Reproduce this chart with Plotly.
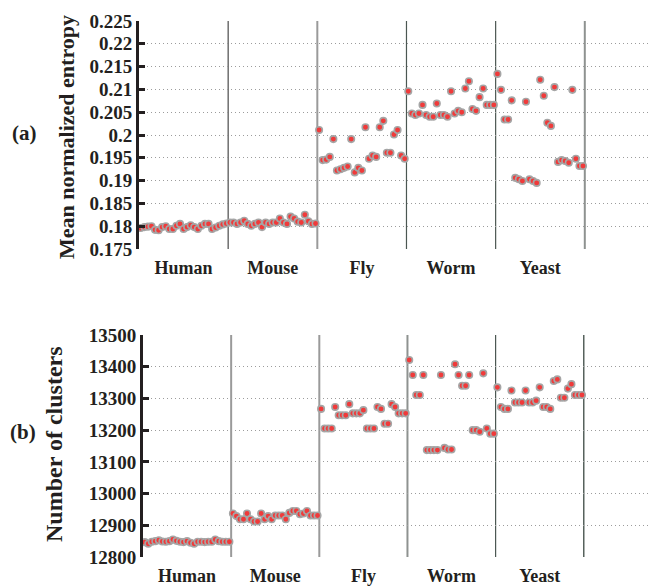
import plotly.graph_objects as go

# ---- data -------------------------------------------------------------
categories = ["Human", "Mouse", "Fly", "Worm", "Yeast"]
runs_per_species = 25

entropy_human = [0.1796, 0.1798, 0.1799, 0.1800, 0.1792, 0.1791, 0.1798, 0.1800, 0.1794, 0.1794,
                 0.1801, 0.1805, 0.1794, 0.1798, 0.1802, 0.1798, 0.1794, 0.1801, 0.1805, 0.1805,
                 0.1794, 0.1797, 0.1801, 0.1804, 0.1806]
entropy_mouse = [0.1808, 0.1808, 0.1805, 0.1808, 0.1812, 0.1805, 0.1801, 0.1805, 0.1808, 0.1798,
                 0.1808, 0.1805, 0.1808, 0.1808, 0.1817, 0.1808, 0.1805, 0.1821, 0.1817, 0.1810,
                 0.1808, 0.1825, 0.1811, 0.1805, 0.1806]
entropy_fly = [0.2011, 0.1945, 0.1946, 0.1952, 0.1991, 0.1922, 0.1925, 0.1928, 0.1931, 0.1991,
               0.1918, 0.1928, 0.1922, 0.2017, 0.1948, 0.1955, 0.1952, 0.2017, 0.2031, 0.1961,
               0.1961, 0.2001, 0.2011, 0.1955, 0.1948]
entropy_worm = [0.2096, 0.2047, 0.2044, 0.2047, 0.2066, 0.2044, 0.2040, 0.2040, 0.2069, 0.2044,
                0.2044, 0.2040, 0.2096, 0.2047, 0.2053, 0.2050, 0.2102, 0.2118, 0.2057, 0.2053,
                0.2083, 0.2102, 0.2066, 0.2066, 0.2066]
entropy_yeast = [0.2134, 0.2099, 0.2034, 0.2034, 0.2076, 0.1906, 0.1903, 0.1899, 0.2073, 0.1903,
                 0.1899, 0.1895, 0.2121, 0.2086, 0.2027, 0.2020, 0.2105, 0.1941, 0.1945, 0.1943,
                 0.1939, 0.2099, 0.1948, 0.1932, 0.1932]

clusters_human = [12847, 12842, 12848, 12850, 12853, 12849, 12848, 12850, 12855, 12851,
                  12848, 12847, 12850, 12845, 12842, 12848, 12848, 12847, 12848, 12848,
                  12855, 12850, 12848, 12848, 12848]
clusters_mouse = [12937, 12929, 12919, 12919, 12937, 12919, 12912, 12912, 12937, 12919,
                  12929, 12919, 12931, 12931, 12931, 12919, 12939, 12945, 12945, 12935,
                  12937, 12945, 12931, 12931, 12931]
clusters_fly = [13267, 13205, 13205, 13205, 13273, 13247, 13247, 13247, 13282, 13253,
                13253, 13253, 13263, 13205, 13205, 13205, 13273, 13267, 13220, 13220,
                13282, 13273, 13253, 13253, 13253]
clusters_worm = [13421, 13374, 13311, 13311, 13374, 13137, 13137, 13137, 13137, 13374,
                 13144, 13139, 13139, 13408, 13374, 13340, 13340, 13374, 13200, 13200,
                 13195, 13379, 13205, 13189, 13189]
clusters_yeast = [13335, 13273, 13267, 13267, 13325, 13287, 13287, 13287, 13325, 13287,
                  13287, 13293, 13335, 13273, 13273, 13267, 13355, 13360, 13302, 13302,
                  13331, 13345, 13311, 13311, 13311]

entropy_ticks = [0.175, 0.18, 0.185, 0.19, 0.195, 0.2, 0.205, 0.21, 0.215, 0.22, 0.225]
entropy_tick_labels = ["0.175", "0.18", "0.185", "0.19", "0.195", "0.2",
                       "0.205", "0.21", "0.215", "0.22", "0.225"]
cluster_ticks = [12800, 12900, 13000, 13100, 13200, 13300, 13400, 13500]
cluster_tick_labels = ["12800", "12900", "13000", "13100", "13200", "13300", "13400", "13500"]

entropy_series = [entropy_human, entropy_mouse, entropy_fly, entropy_worm, entropy_yeast]
cluster_series = [clusters_human, clusters_mouse, clusters_fly, clusters_worm, clusters_yeast]

# ---- styling ----------------------------------------------------------
W, H = 649, 586
SERIF = "Liberation Serif, Times New Roman, serif"
INK = "#231f20"
DOT_FILL = "#f03a3a"
DOT_EDGE = "#a5a5a5"


def run_positions(series_list):
    xs, ys = [], []
    for k, vals in enumerate(series_list):
        for i, v in enumerate(vals):
            xs.append(k * runs_per_species + i + 0.5)
            ys.append(v)
    return xs, ys


fig = go.Figure()
for series_list, xa, ya in [(entropy_series, "x", "y"), (cluster_series, "x2", "y2")]:
    xs, ys = run_positions(series_list)
    fig.add_trace(go.Scatter(
        x=xs, y=ys, xaxis=xa, yaxis=ya, mode="markers",
        marker=dict(size=6.5, color=DOT_FILL, line=dict(color=DOT_EDGE, width=1.6)),
        hoverinfo="skip", showlegend=False,
    ))

group_centers = [k * runs_per_species + runs_per_species / 2 for k in range(len(categories))]
boundaries = [k * runs_per_species for k in range(1, len(categories) + 1)]

# separators between species blocks
top_sep_colors = ["#4a4a4a", "#9a9a9a", "#4b5752", "#4b5752", "#8e9290"]
bot_sep_colors = ["#9a9a9a", "#9a9a9a", "#8e9290", "#4b5752", "#4b5752"]
top_sep_widths = [1.2, 2, 1.2, 1.2, 2]
bot_sep_widths = [2, 2, 2, 1.2, 1.4]
shapes = []
for b, c, w in zip(boundaries, top_sep_colors, top_sep_widths):
    shapes.append(dict(type="line", xref="x", yref="y domain", x0=b, x1=b, y0=0, y1=1,
                       line=dict(color=c, width=w), layer="below"))
for b, c, w in zip(boundaries, bot_sep_colors, bot_sep_widths):
    shapes.append(dict(type="line", xref="x2", yref="y2 domain", x0=b, x1=b, y0=0, y1=1,
                       line=dict(color=c, width=w), layer="below"))

xcommon = dict(
    tickvals=group_centers, ticktext=categories, ticks="", showgrid=False,
    zeroline=False, showline=False, ticklabelstandoff=6,
    tickfont=dict(family=SERIF, size=18, color=INK, weight="bold"),
)
ycommon = dict(
    showgrid=True, gridcolor="#9c9c9c", griddash="1px,3px", gridwidth=1,
    zeroline=False, showline=True, linecolor=INK, linewidth=3,
    ticks="inside", ticklen=6, tickwidth=3, tickcolor=INK,
    tickfont=dict(family=SERIF, size=19, color=INK, weight="bold"),
)

fig.update_layout(
    width=W, height=H, margin=dict(l=0, r=0, t=0, b=0, autoexpand=False),
    paper_bgcolor="white", plot_bgcolor="white", showlegend=False,
    xaxis=dict(domain=[139 / W, 1], range=[0, 143], anchor="y", **xcommon),
    yaxis=dict(domain=[1 - 249 / H, 1 - 21 / H], range=[0.175, 0.225], anchor="x",
               tickvals=entropy_ticks, ticktext=entropy_tick_labels, **ycommon),
    xaxis2=dict(domain=[143 / W, 1], range=[0, 143.5], anchor="y2", **xcommon),
    yaxis2=dict(domain=[1 - 557 / H, 1 - 335 / H], range=[12800, 13500], anchor="x2",
                tickvals=cluster_ticks, ticktext=cluster_tick_labels, **ycommon),
    shapes=shapes,
)

title_font = dict(family=SERIF, color=INK, weight="bold")
annotations = [
    dict(text="Mean normalized entropy", x=66 / W, y=1 - 137 / H, textangle=-90,
         font=dict(size=22, **title_font)),
    dict(text="Number of clusters", x=54 / W, y=1 - 444 / H, textangle=-90,
         font=dict(size=24, **title_font)),
    dict(text="(a)", x=24 / W, y=1 - 133 / H, font=dict(size=21, **title_font)),
    dict(text="(b)", x=23 / W, y=1 - 432 / H, font=dict(size=21, **title_font)),
]
for a in annotations:
    fig.add_annotation(xref="paper", yref="paper", showarrow=False,
                       xanchor="center", yanchor="middle", **a)

fig.write_html("out.html")
